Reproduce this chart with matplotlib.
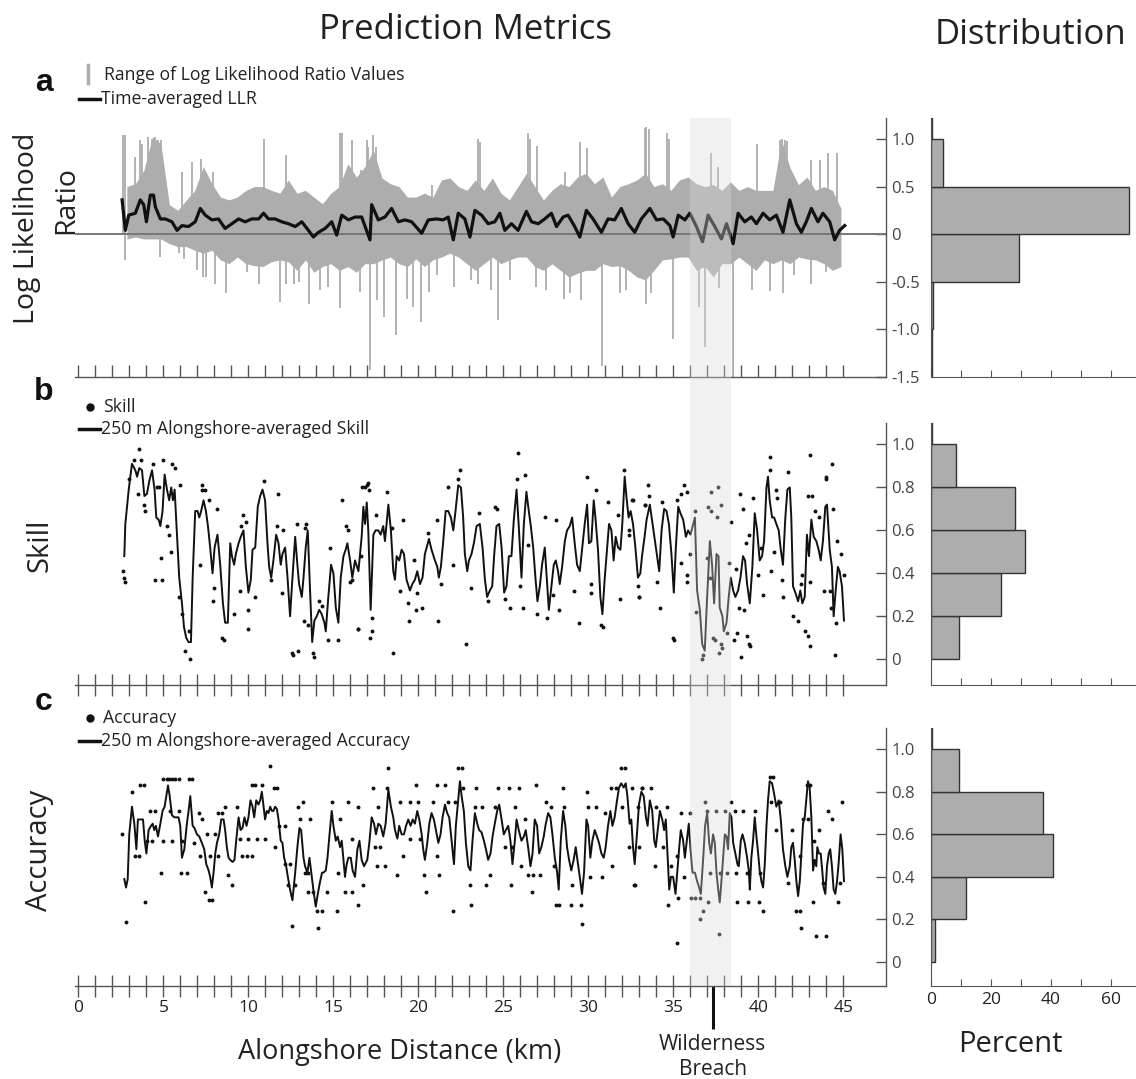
import matplotlib.pyplot as plt
import matplotlib.transforms as mtransforms
from matplotlib.lines import Line2D
import numpy as np

plt.rcParams['font.family'] = ['Open Sans', 'DejaVu Sans']

# ---------------- data ----------------
breach_km = 37.3
breach_band = (35.96, 38.4)

# panel a: range of LLR values, read every 0.5 km starting at 2.85 km
llr_env_start = 2.85
llr_env_step = 0.5
llr_upper = [0.50, 0.53, 0.67, 1.02, 0.95, 0.31, 0.25, 0.36, 0.46, 0.71, 0.53, 0.39, 0.36, 0.39, 0.46,
             0.50, 0.50, 0.46, 0.43, 0.57, 0.43, 0.46, 0.39, 0.32, 0.43, 0.50, 0.74, 0.60, 0.71,
             0.88, 0.59, 0.53, 0.50, 0.39, 0.39, 0.43, 0.39, 0.57, 0.59, 0.50, 0.46, 0.57, 0.46, 0.59,
             0.43, 0.36, 0.50, 0.64, 0.50, 0.36, 0.46, 0.53, 0.50, 0.60, 0.64, 0.53, 0.60, 0.39, 0.50,
             0.53, 0.57, 0.64, 0.50, 0.53, 0.46, 0.57, 0.60, 0.53, 0.50, 0.52, 0.46, 0.55, 0.46, 0.50,
             0.46, 0.46, 0.46, 0.99, 0.70, 0.52, 0.60, 0.46, 0.50, 0.46, 0.27]
llr_lower = [-0.05, -0.03, -0.05, -0.05, -0.05, -0.10, -0.13, -0.13, -0.17, -0.20, -0.17, -0.27, -0.31,
             -0.24, -0.31, -0.33, -0.34, -0.29, -0.27, -0.29, -0.38, -0.27, -0.40, -0.34, -0.31, -0.38,
             -0.34, -0.40, -0.31,
             -0.31, -0.27, -0.24, -0.31, -0.34, -0.26, -0.34, -0.27, -0.24, -0.20, -0.24, -0.31, -0.38,
             -0.31, -0.24, -0.31, -0.27, -0.24, -0.24, -0.34, -0.38, -0.31, -0.38, -0.45, -0.41, -0.38,
             -0.38, -0.31, -0.34, -0.33,
             -0.38, -0.45, -0.48, -0.38, -0.27, -0.26, -0.24, -0.24, -0.38, -0.34, -0.45, -0.31, -0.31,
             -0.24, -0.31, -0.38, -0.27, -0.31, -0.27, -0.31, -0.24, -0.26, -0.27, -0.31, -0.38, -0.34]
spike_up_km = [2.6, 2.75, 3.3, 3.6, 3.75, 4.1, 4.3, 4.5, 4.7, 4.85, 6.1, 6.7, 7.2, 7.9, 10.9, 12.2,
               15.4, 15.5, 16.1, 16.6, 16.95, 17.05, 17.3, 17.5, 20.8, 23.5, 23.65, 26.45, 26.55,
               26.95, 28.6, 29.5, 29.9, 33.3, 33.4, 33.55, 34.6, 34.75, 37.2, 37.6, 39.9, 41.25,
               41.4, 41.55, 41.7, 43.1, 43.6, 44.1, 44.6]
spike_up_val = [1.04, 1.04, 0.81, 0.99, 0.95, 1.02, 1.00, 1.02, 0.99, 0.99, 0.65, 0.76, 0.79, 0.65,
                1.00, 0.83, 1.06, 1.06, 0.99, 0.67, 0.99, 0.92, 1.04, 0.92, 0.52, 1.00, 0.97, 1.06,
                1.00, 0.93, 0.65, 0.97, 0.90, 1.11, 1.13, 1.10, 1.06, 1.00, 0.85, 0.71, 0.95, 0.99,
                1.00, 0.99, 0.98, 0.78, 0.78, 0.85, 0.85]
spike_dn_km = [2.75, 4.8, 5.9, 6.2, 6.95, 7.3, 7.5, 8.05, 8.7, 9.9, 10.6, 11.85, 12.2, 12.7, 12.95,
               13.55, 14.2, 14.7, 15.4, 16.55, 17.15, 17.55, 17.95, 18.7, 19.3, 19.7, 20.15, 20.6,
               21.1, 22.1, 23.1, 23.5, 24.25, 24.7, 25.4, 26.9, 27.5, 28.55, 28.9, 29.55, 30.8,
               31.85, 32.2, 33.4, 33.7, 34.95, 36.5, 36.85, 37.7, 38.5, 39.6, 40.7, 41.45, 42.1,
               43.1, 44.0]
spike_dn_val = [-0.27, -0.24, -0.20, -0.26, -0.38, -0.45, -0.45, -0.52, -0.62, -0.40, -0.52, -0.71,
                -0.52, -0.52, -0.50, -0.73, -0.59, -0.55, -0.78, -0.61, -1.43, -0.69, -0.87, -1.06,
                -0.68, -0.76, -0.92, -0.61, -0.43, -0.55, -0.48, -0.52, -0.59, -0.90, -0.48, -0.55,
                -0.59, -0.68, -0.62, -0.69, -1.38, -0.62, -0.59, -0.73, -0.62, -1.10, -0.76, -1.18,
                -0.57, -1.50, -0.59, -0.60, -0.62, -0.43, -0.52, -0.40]
llr_mean_km = [2.57, 2.76, 2.96, 3.35, 3.64, 3.84, 4.0, 4.23, 4.42, 4.52, 4.82, 5.11, 5.50, 5.80, 6.09,
               6.48, 6.87, 7.17, 7.46, 7.85, 8.24, 8.63, 9.03, 9.42, 9.81, 10.2, 10.6, 10.89, 11.18,
               11.57, 11.96, 12.35, 12.75, 13.14, 13.53, 13.82, 14.12, 14.51, 14.9, 15.19, 15.49,
               15.88, 16.27, 16.66, 17.15, 17.25, 17.64, 18.03, 18.42, 18.82, 19.21, 19.6, 20.19,
               20.58, 21.07, 21.46, 21.75, 22.05, 22.34, 22.73, 23.03, 23.32, 23.71, 24.1, 24.49,
               24.79, 25.08, 25.47, 25.86, 26.35, 26.65, 27.04, 27.43, 27.82, 28.12, 28.51, 28.8,
               29.19, 29.49, 29.88, 30.27, 30.76, 31.15, 31.54, 31.93, 32.33, 32.72, 33.11, 33.61,
               34.0, 34.4, 34.79, 34.98, 35.28, 35.67, 35.96, 36.35, 36.71, 37.04, 37.43, 37.82,
               38.12, 38.51, 38.8, 39.19, 39.58, 39.88, 40.27, 40.66, 41.05, 41.44, 41.84, 42.23,
               42.52, 42.81, 43.11, 43.5, 43.79, 44.19, 44.48, 44.77, 45.07]
llr_mean = [0.36, 0.04, 0.20, 0.22, 0.36, 0.31, 0.13, 0.41, 0.41, 0.29, 0.16, 0.16, 0.13, 0.04, 0.09,
            0.08, 0.13, 0.27, 0.20, 0.15, 0.16, 0.06, 0.11, 0.16, 0.13, 0.16, 0.16, 0.22, 0.16,
            0.16, 0.13, 0.11, 0.08, 0.13, 0.04, -0.03, 0.02, 0.06, 0.13, -0.01, 0.20,
            0.15, 0.18, 0.18, -0.06, 0.31, 0.15, 0.18, 0.27, 0.13, 0.15, 0.13, 0.01,
            0.15, 0.16, 0.15, 0.18, -0.06, 0.22, 0.16, -0.03, 0.25, 0.20, 0.11, 0.13,
            0.22, 0.04, 0.11, 0.04, 0.24, 0.13, 0.11, 0.16, 0.22, 0.08, 0.18, 0.20,
            0.08, -0.03, 0.25, 0.16, 0.02, 0.16, 0.15, 0.27, 0.11, 0.02, 0.16, 0.27,
            0.15, 0.16, 0.09, -0.03, 0.20, 0.15, 0.22, 0.08, -0.08, 0.20, 0.08, -0.05,
            0.11, -0.10, 0.22, 0.13, 0.18, 0.11, 0.22, 0.15, 0.20, 0.02, 0.36, 0.11,
            0.02, 0.13, 0.27, 0.13, 0.22, 0.13, -0.06, 0.04, 0.09]

# panel b: skill
skill_km = [2.70, 2.76, 2.96, 3.15, 3.35, 3.45, 3.58, 3.74, 3.88, 4.03, 4.17, 4.33, 4.48, 4.58, 4.72,
            4.82, 4.95, 5.07, 5.21, 5.34, 5.46, 5.56, 5.66, 5.80, 5.93, 6.09, 6.21, 6.34, 6.48, 6.62,
            6.72, 6.87, 7.01, 7.11, 7.22, 7.36, 7.50, 7.62, 7.75, 7.89, 8.01, 8.18, 8.34, 8.50, 8.63,
            8.79, 8.93, 9.03, 9.16, 9.26, 9.42, 9.55, 9.71, 9.85, 10.0, 10.14, 10.24, 10.40, 10.55,
            10.69, 10.83, 10.98, 11.12, 11.22, 11.34, 11.47, 11.63, 11.77, 11.90, 12.0, 12.16, 12.30,
            12.45, 12.59, 12.75, 12.88, 12.98, 13.14, 13.24, 13.37, 13.49, 13.63, 13.75, 13.88, 14.02,
            14.16, 14.31, 14.47, 14.55, 14.70, 14.86, 15.00, 15.14, 15.29, 15.43, 15.59, 15.72, 15.82,
            15.98, 16.11, 16.27,
            16.47, 16.66, 16.76, 16.86, 16.96, 17.05, 17.19, 17.35, 17.48, 17.64, 17.78, 17.93, 18.03,
            18.23, 18.38, 18.52, 18.62, 18.72, 18.87, 19.01, 19.15, 19.30, 19.50, 19.64, 19.79, 19.93,
            20.09, 20.24, 20.38, 20.62, 20.77, 20.97, 21.11, 21.20, 21.32, 21.46, 21.60, 21.75, 21.91,
            22.05, 22.18, 22.34, 22.50, 22.63, 22.73, 22.87, 22.97, 23.12, 23.26, 23.42, 23.61, 23.77,
            23.91, 24.04, 24.20, 24.34, 24.45, 24.59, 24.75, 24.89, 25.04, 25.18, 25.32, 25.47, 25.61,
            25.77, 25.90, 26.06, 26.20, 26.35, 26.49, 26.61, 26.75, 26.88, 27.0, 27.14, 27.27, 27.43,
            27.57, 27.67, 27.82, 27.96, 28.08, 28.21, 28.31, 28.45, 28.61, 28.74, 28.90, 29.04, 29.19,
            29.33, 29.49, 29.62, 29.78, 29.92, 30.03, 30.17, 30.31, 30.41, 30.56, 30.70, 30.82, 30.96,
            31.09, 31.21, 31.35, 31.48, 31.60, 31.74, 31.88, 31.99, 32.13, 32.23, 32.36, 32.48, 32.62,
            32.76, 32.91, 33.05, 33.15, 33.30,
            33.42, 33.61, 33.77, 33.91, 34.04, 34.16, 34.30, 34.45, 34.59, 34.73, 34.88, 35.02, 35.14,
            35.28, 35.41, 35.57, 35.73, 35.86, 36.0, 36.16, 36.26, 36.39, 36.55, 36.69, 36.84, 36.98,
            37.14, 37.27, 37.39, 37.53, 37.65, 37.72, 37.88, 37.96, 38.12, 38.25, 38.37, 38.51, 38.64,
            38.80, 38.94, 39.09, 39.21, 39.33, 39.49, 39.64, 39.78, 39.92, 40.07, 40.21, 40.33, 40.47,
            40.56, 40.66, 40.80, 40.92, 41.05, 41.19, 41.31, 41.44, 41.58, 41.70, 41.84, 41.93, 42.03,
            42.17, 42.33, 42.46, 42.58, 42.72, 42.85, 42.97, 43.11, 43.25, 43.40, 43.54, 43.66, 43.79,
            43.93, 44.03, 44.19, 44.32, 44.42, 44.54, 44.67, 44.77, 44.91, 45.03]
skill_avg = [0.48, 0.63, 0.79, 0.91, 0.88, 0.85, 0.89, 0.88, 0.76, 0.77, 0.83, 0.88, 0.79, 0.66, 0.65,
             0.62, 0.69, 0.86, 0.79, 0.74, 0.80, 0.74, 0.79, 0.58, 0.38, 0.26, 0.15, 0.10, 0.08, 0.08,
             0.38, 0.69, 0.69, 0.66, 0.69, 0.74, 0.69, 0.62, 0.52, 0.40, 0.52, 0.58, 0.44, 0.26, 0.17,
             0.17, 0.54, 0.48, 0.44, 0.49, 0.54, 0.57, 0.60, 0.43, 0.31, 0.37, 0.51, 0.52, 0.71,
             0.76, 0.79, 0.74, 0.54, 0.43, 0.38, 0.46, 0.58, 0.54, 0.44, 0.49, 0.52, 0.38,
             0.20, 0.38, 0.57, 0.44, 0.35, 0.29, 0.38, 0.52, 0.60, 0.31, 0.08, 0.18, 0.20,
             0.23, 0.21, 0.17, 0.13, 0.29, 0.44, 0.40, 0.24, 0.17, 0.38, 0.48, 0.51, 0.54,
             0.46, 0.38, 0.46,
             0.41, 0.57, 0.71, 0.63, 0.73, 0.60, 0.23, 0.58, 0.60, 0.60, 0.58, 0.62, 0.55,
             0.72, 0.60, 0.41, 0.37, 0.48, 0.46, 0.51, 0.49, 0.37, 0.32, 0.35, 0.37, 0.41,
             0.35, 0.38, 0.49, 0.56, 0.51, 0.46, 0.43, 0.38, 0.43, 0.55, 0.69, 0.69, 0.66,
             0.60, 0.69, 0.81, 0.80, 0.66, 0.49, 0.41, 0.46, 0.49, 0.54, 0.62, 0.63, 0.52,
             0.37, 0.29, 0.32, 0.34, 0.48, 0.62, 0.63, 0.52, 0.31, 0.34, 0.48, 0.48, 0.65,
             0.79, 0.62, 0.38, 0.63, 0.78, 0.69, 0.62, 0.52, 0.38, 0.27, 0.34, 0.44, 0.52,
             0.35, 0.23, 0.34, 0.44, 0.46, 0.41, 0.35, 0.43, 0.55, 0.60, 0.62, 0.66, 0.54,
             0.44, 0.41, 0.51, 0.63, 0.72, 0.54, 0.55, 0.74, 0.66, 0.51, 0.29, 0.21, 0.38,
             0.51, 0.63, 0.60, 0.46, 0.57, 0.52, 0.51, 0.63, 0.85, 0.76, 0.66, 0.69, 0.63,
             0.52, 0.38, 0.40, 0.48, 0.57,
             0.65, 0.72, 0.63, 0.55, 0.48, 0.41, 0.60, 0.70, 0.69, 0.63, 0.49, 0.31, 0.52,
             0.71, 0.68, 0.65, 0.57, 0.60, 0.58, 0.63, 0.66, 0.32, 0.23, 0.07, 0.04, 0.29,
             0.55, 0.44, 0.26, 0.49, 0.48, 0.24, 0.20, 0.13, 0.17, 0.29, 0.38, 0.32, 0.29,
             0.32, 0.38, 0.48, 0.46, 0.35, 0.26, 0.43, 0.68, 0.60, 0.46, 0.48, 0.55, 0.80,
             0.85, 0.74, 0.66, 0.66, 0.63, 0.60, 0.51, 0.44, 0.66, 0.79, 0.80, 0.66, 0.34,
             0.31, 0.27, 0.32, 0.26, 0.29, 0.58, 0.48, 0.65, 0.57, 0.55, 0.51, 0.46, 0.55,
             0.71, 0.72, 0.51, 0.43, 0.20, 0.32, 0.43, 0.41, 0.34, 0.18]
skill_dot_km = [3.58, 3.25, 3.70, 4.39, 4.99, 5.50, 5.66, 2.96, 3.50, 3.84, 3.94, 4.62, 4.72, 5.21, 5.31,
                4.86, 5.46, 5.99, 4.52, 4.91, 2.62, 2.76, 2.66, 5.89, 6.09, 6.28, 6.58, 6.48, 7.26, 7.28,
                7.46, 7.70, 7.17, 8.15, 7.95, 7.91, 8.44, 8.54, 9.18, 9.52, 10.0, 9.97, 10.4, 9.67, 9.85,
                9.55, 10.89, 11.73, 11.67, 12.06, 11.32, 12.0, 12.55, 12.61, 12.94, 12.85, 13.39, 13.33,
                13.53, 13.26, 13.82, 13.85, 14.18, 14.31, 14.66, 15.29, 14.80, 15.49, 15.72, 15.88,
                15.98, 16.07, 16.43, 16.70, 16.60,
                16.47, 17.15, 17.25, 17.29, 17.05, 16.86, 16.95, 17.08, 17.5, 18.13, 18.42, 18.52, 18.91,
                19.07, 19.40, 19.46, 19.83, 20.19, 19.89, 19.76, 20.54, 21.13, 21.32, 21.07, 21.71,
                22.05, 22.44, 22.30, 22.77, 23.12, 23.55, 24.10, 24.49, 24.63, 25.12, 25.41, 25.86,
                25.77, 26.29, 26.16, 25.96, 26.45, 27.0, 27.59, 27.43, 28.12, 27.92, 28.25, 29.15,
                29.43, 29.92, 30.13, 30.15, 30.47, 30.76, 30.86, 31.15, 31.74, 31.84, 32.09, 32.36,
                32.91, 32.95, 33.30, 32.62,
                32.54, 32.40, 32.97, 33.32, 33.51, 33.55, 34.20, 34.06, 34.30, 34.98, 35.02, 35.22,
                35.47, 35.61, 35.43, 35.77, 35.79, 35.82, 36.0, 36.26, 36.35, 36.65, 36.75, 36.98,
                37.04, 37.18, 37.23, 37.33, 37.43, 37.14, 37.59, 37.78, 37.57, 37.69, 37.82, 37.86,
                38.12, 38.25, 38.41, 38.57, 38.74, 38.70, 38.84, 39.0, 38.94, 39.06, 39.13, 39.35,
                39.43, 39.53, 39.25, 39.45, 39.68, 40.0, 40.17, 40.27, 40.66, 40.68, 40.72, 40.90,
                41.05, 41.07, 41.38, 41.74, 41.44, 42.03, 42.33, 42.52, 42.56, 42.72, 42.91, 43.01,
                42.91, 43.15, 43.01, 43.05, 43.30, 43.54, 43.83, 43.95, 43.99, 44.19, 44.25, 44.32,
                44.38, 44.48, 44.58, 44.64, 44.83, 45.01]
skill_dot = [0.98, 0.93, 0.93, 0.91, 0.93, 0.91, 0.89, 0.84, 0.77, 0.72, 0.69, 0.80, 0.80, 0.62, 0.58,
             0.47, 0.50, 0.81, 0.37, 0.37, 0.41, 0.36, 0.38, 0.29, 0.21, 0.04, 0.00, 0.13, 0.81, 0.79,
             0.79, 0.74, 0.44, 0.70, 0.33, 0.27, 0.10, 0.09, 0.21, 0.32, 0.14, 0.23, 0.29, 0.67, 0.64,
             0.62, 0.83, 0.77, 0.62, 0.60, 0.37, 0.31, 0.03, 0.02, 0.04, 0.63, 0.63, 0.61,
             0.16, 0.18, 0.03, 0.01, 0.27, 0.25, 0.09, 0.09, 0.52, 0.74, 0.62, 0.60,
             0.36, 0.37, 0.14, 0.80, 0.48,
             0.14, 0.10, 0.13, 0.19, 0.82, 0.80, 0.81, 0.79, 0.67, 0.78, 0.61, 0.03, 0.32,
             0.65, 0.26, 0.18, 0.23, 0.24, 0.31, 0.46, 0.59, 0.18, 0.35, 0.65, 0.80,
             0.44, 0.88, 0.84, 0.07, 0.33, 0.68, 0.27, 0.71, 0.70, 0.28, 0.24, 0.96,
             0.84, 0.86, 0.24, 0.34, 0.53, 0.21, 0.19, 0.66, 0.65, 0.30, 0.23, 0.32,
             0.17, 0.85, 0.35, 0.31, 0.79, 0.16, 0.15, 0.73, 0.67, 0.28, 0.88, 0.58,
             0.34, 0.29, 0.72, 0.74,
             0.74, 0.60, 0.29, 0.72, 0.81, 0.76, 0.24, 0.36, 0.73, 0.10, 0.09, 0.74,
             0.45, 0.81, 0.77, 0.39, 0.36, 0.78, 0.49, 0.69, 0.22, 0.00, 0.02, 0.47,
             0.71, 0.78, 0.69, 0.10, 0.09, 0.38, 0.80, 0.72, 0.66, 0.03, 0.07, 0.05,
             0.12, 0.45, 0.64, 0.09, 0.12, 0.42, 0.24, 0.01, 0.77, 0.70, 0.23, 0.11,
             0.07, 0.06, 0.54, 0.58, 0.75, 0.39, 0.52, 0.30, 0.94, 0.88, 0.41, 0.50,
             0.79, 0.75, 0.37, 0.87, 0.29, 0.20, 0.18, 0.35, 0.39, 0.13, 0.11, 0.06,
             0.76, 0.76, 0.95, 0.36, 0.69, 0.66, 0.32, 0.84, 0.85, 0.32, 0.24, 0.91,
             0.70, 0.02, 0.17, 0.55, 0.49, 0.39]

# panel c: accuracy
acc_km = [2.70, 2.80, 2.90, 2.99, 3.15, 3.29, 3.41, 3.50, 3.64, 3.80, 3.90, 4.0, 4.13, 4.27, 4.37, 4.46,
          4.56, 4.68, 4.82, 4.95, 5.07, 5.17, 5.27, 5.37, 5.50, 5.64, 5.76, 5.89, 5.99, 6.09, 6.23,
          6.38, 6.48, 6.58, 6.72, 6.83, 6.97, 7.11, 7.26, 7.40, 7.52, 7.66, 7.75, 7.85, 7.95, 8.05,
          8.15, 8.28, 8.40, 8.54, 8.63, 8.73, 8.83, 8.93, 9.07, 9.18, 9.28, 9.42, 9.54, 9.65, 9.77,
          9.89, 10.0, 10.12, 10.24, 10.34, 10.46, 10.59, 10.69, 10.79, 10.89, 10.98, 11.08, 11.18,
          11.28, 11.38, 11.47, 11.57, 11.67, 11.77, 11.90, 12.0, 12.10, 12.20, 12.32, 12.45, 12.59,
          12.75, 12.88, 13.0, 13.10, 13.24, 13.33, 13.47, 13.59, 13.73, 13.82, 13.96, 14.08, 14.22,
          14.33, 14.41, 14.55, 14.65, 14.76, 14.9, 15.0, 15.14, 15.25, 15.39, 15.49, 15.59, 15.68,
          15.78, 15.88, 16.02, 16.13, 16.27, 16.41, 16.53, 16.66, 16.80,
          16.99, 17.11, 17.25, 17.39, 17.50, 17.64, 17.78, 17.93, 18.07, 18.23, 18.38, 18.52, 18.62,
          18.76, 18.87, 19.01, 19.15, 19.27, 19.40, 19.54, 19.66, 19.79, 19.93, 20.05, 20.19, 20.28,
          20.38, 20.52, 20.64, 20.77, 20.91, 21.03, 21.17, 21.30, 21.42, 21.56, 21.69, 21.81, 21.95,
          22.09, 22.20, 22.34, 22.44, 22.54, 22.67, 22.79, 22.93, 23.06, 23.18, 23.32, 23.46, 23.57,
          23.71, 23.85, 23.97, 24.10, 24.24, 24.36, 24.49, 24.63, 24.75, 24.89, 25.02, 25.14, 25.28,
          25.41, 25.53, 25.67, 25.77, 25.90, 26.06, 26.20, 26.31, 26.45, 26.59, 26.71, 26.84, 26.98,
          27.10, 27.23, 27.37, 27.49, 27.63, 27.76, 27.88, 28.02, 28.16, 28.25, 28.37, 28.51, 28.64,
          28.74, 28.86, 28.99, 29.13, 29.25, 29.35, 29.49, 29.62, 29.74, 29.88, 29.98, 30.11, 30.23,
          30.37, 30.50, 30.62, 30.76, 30.90, 31.01, 31.15, 31.29, 31.41, 31.54, 31.68, 31.80, 31.93,
          32.07, 32.19, 32.29, 32.42, 32.52, 32.62, 32.72, 32.85, 32.97, 33.11, 33.25,
          33.38, 33.48, 33.61, 33.75, 33.87, 33.96, 34.10, 34.20, 34.34, 34.45, 34.55, 34.65, 34.75,
          34.85, 34.98, 35.12, 35.22, 35.34, 35.43, 35.57, 35.67, 35.77, 35.90, 36.02, 36.12, 36.26,
          36.39, 36.51, 36.61, 36.75, 36.86, 36.98, 37.10, 37.20, 37.33, 37.43, 37.53, 37.63, 37.72,
          37.82, 37.92, 38.02, 38.12, 38.21, 38.31, 38.41, 38.51, 38.64, 38.76, 38.84, 38.96, 39.06,
          39.19, 39.33, 39.43, 39.49, 39.58, 39.68, 39.78, 39.88, 39.98, 40.07, 40.17, 40.27, 40.37,
          40.47, 40.56, 40.66, 40.80, 40.92, 41.05, 41.19, 41.31, 41.44, 41.58, 41.70, 41.84, 41.93,
          42.03, 42.13, 42.23, 42.33, 42.43, 42.52, 42.62, 42.72, 42.81, 42.91, 43.01, 43.11, 43.21,
          43.30, 43.40, 43.46, 43.56, 43.66, 43.75, 43.83, 43.93, 44.03, 44.13, 44.22, 44.32, 44.42,
          44.52, 44.62, 44.71, 44.83, 44.93, 45.03]
acc_avg = [0.39, 0.35, 0.39, 0.60, 0.73, 0.65, 0.53, 0.67, 0.67, 0.67, 0.57, 0.51, 0.62, 0.64, 0.65, 0.62,
           0.64, 0.59, 0.65, 0.71, 0.73, 0.78, 0.83, 0.78, 0.69, 0.68, 0.68, 0.68, 0.64, 0.49, 0.53,
           0.65, 0.71, 0.78, 0.64, 0.63, 0.60, 0.59, 0.56, 0.53, 0.46, 0.43, 0.40, 0.35, 0.42, 0.51,
           0.56, 0.60, 0.67, 0.67, 0.62, 0.54, 0.49, 0.48, 0.47, 0.48, 0.57, 0.68, 0.62, 0.63, 0.68,
           0.64, 0.68, 0.76, 0.73, 0.68, 0.76, 0.74, 0.76, 0.80, 0.73, 0.67, 0.71, 0.70,
           0.73, 0.71, 0.71, 0.73, 0.72, 0.67, 0.57, 0.56, 0.49, 0.46, 0.40, 0.34, 0.29,
           0.42, 0.54, 0.63, 0.62, 0.49, 0.45, 0.42, 0.49, 0.40, 0.34, 0.26, 0.32, 0.38,
           0.42, 0.42, 0.43, 0.49, 0.59, 0.71, 0.64, 0.57, 0.59, 0.54, 0.57, 0.48, 0.40,
           0.46, 0.49, 0.49, 0.43, 0.40, 0.53, 0.57, 0.48, 0.45,
           0.48, 0.56, 0.68, 0.65, 0.60, 0.65, 0.64, 0.59, 0.65, 0.81, 0.73, 0.68, 0.62,
           0.58, 0.64, 0.60, 0.60, 0.64, 0.67, 0.64, 0.67, 0.65, 0.71, 0.67, 0.60, 0.53,
           0.48, 0.56, 0.65, 0.70, 0.67, 0.62, 0.56, 0.60, 0.68, 0.74, 0.70, 0.68, 0.57,
           0.46, 0.64, 0.76, 0.85, 0.78, 0.71, 0.56, 0.45, 0.43, 0.57, 0.70, 0.65, 0.62,
           0.61, 0.57, 0.53, 0.48, 0.51, 0.59, 0.65, 0.71, 0.74, 0.67, 0.60, 0.62, 0.64,
           0.57, 0.46, 0.57, 0.67, 0.62, 0.57, 0.59, 0.62, 0.54, 0.45, 0.51, 0.67, 0.64,
           0.51, 0.54, 0.59, 0.65, 0.70, 0.68, 0.60, 0.49, 0.42, 0.34, 0.57, 0.71, 0.64,
           0.54, 0.48, 0.43, 0.48, 0.54, 0.48, 0.40, 0.32, 0.42, 0.67, 0.64, 0.49, 0.57,
           0.62, 0.59, 0.56, 0.51, 0.49, 0.54, 0.64, 0.71, 0.64, 0.68, 0.76, 0.82, 0.84,
           0.82, 0.84, 0.78, 0.65, 0.67, 0.54, 0.46, 0.60, 0.74, 0.80, 0.78,
           0.68, 0.64, 0.76, 0.71, 0.57, 0.54, 0.64, 0.71, 0.67, 0.62, 0.67, 0.51, 0.34,
           0.40, 0.40, 0.32, 0.42, 0.54, 0.62, 0.57, 0.49, 0.56, 0.65, 0.51, 0.42, 0.42,
           0.38, 0.35, 0.32, 0.49, 0.64, 0.70, 0.56, 0.51, 0.60, 0.56, 0.42, 0.34, 0.28,
           0.38, 0.49, 0.60, 0.59, 0.53, 0.70, 0.68, 0.56, 0.51, 0.46, 0.45, 0.57, 0.60,
           0.56, 0.49, 0.43, 0.34, 0.49, 0.57, 0.68, 0.59, 0.51, 0.43, 0.38, 0.35, 0.46,
           0.64, 0.76, 0.85, 0.84, 0.79, 0.73, 0.76, 0.67, 0.53, 0.45, 0.40, 0.45, 0.54,
           0.56, 0.48, 0.38, 0.31, 0.38, 0.51, 0.65, 0.68, 0.76, 0.85, 0.82, 0.68, 0.43,
           0.48, 0.45, 0.54, 0.51, 0.51, 0.43, 0.35, 0.32, 0.45, 0.51, 0.53, 0.45, 0.34,
           0.32, 0.38, 0.46, 0.60, 0.53, 0.38]
acc_dot_km = [3.15, 3.64, 3.84, 5.0, 5.2, 5.3, 5.5, 5.7, 5.9, 6.48, 6.68, 2.56, 2.80, 3.94, 3.31, 3.54,
              4.23, 4.52, 4.03, 4.33, 5.0, 4.87, 5.40, 5.89, 5.50, 6.09, 6.05, 6.38, 7.07, 7.26, 6.78,
              7.17, 7.75, 8.24, 7.56, 8.05, 7.46, 7.66, 7.85, 8.24, 8.44, 8.60, 8.79, 9.03, 9.32, 9.6,
              9.9, 10.2, 9.52, 10.0, 10.5, 11.0, 10.2, 10.4, 10.8, 11.24, 11.53, 11.67, 11.77, 12.16,
              11.57, 12.16, 12.45, 12.35, 12.75, 12.55, 12.9, 13.2, 13.04, 13.63, 13.33, 13.53, 13.53,
              13.82, 14.02, 14.31, 14.08, 14.6, 14.9, 15.2, 15.4, 15.29, 15.7, 16.1, 15.88, 16.47,
              16.43, 16.07, 16.76,
              17.35, 17.64, 17.45, 17.74, 17.54, 18.03, 18.23, 18.17, 18.72, 19.11, 18.9, 19.5, 20.0,
              19.5, 20.1, 19.83, 20.34, 20.42, 20.87, 21.07, 21.07, 21.56, 21.22, 21.75, 22.14, 22.01,
              22.34, 22.54, 22.63, 23.03, 23.08, 23.36, 23.32, 23.71, 24.0, 24.2, 24.7, 25.3, 25.9,
              24.5, 25.7, 25.1, 25.5, 25.47, 26.06, 26.29, 26.45, 26.75, 26.69, 26.9, 27.14, 27.53,
              27.82, 27.98, 28.12, 28.25, 28.51, 28.55, 28.96, 29.04, 29.55, 29.64, 29.94, 29.98,
              30.47, 30.07, 30.80, 30.96, 31.39, 31.35, 31.64, 31.93, 32.13, 32.68, 33.15,
              32.54, 33.12, 33.65, 32.0, 32.9, 34.0, 34.6, 32.4, 32.95, 32.73, 33.9, 34.36, 34.69,
              34.88, 35.18, 35.28, 35.43, 35.96, 35.63, 35.22, 36.06, 36.25, 36.55, 36.71, 36.55,
              36.84, 36.98, 37.49, 38.02, 37.04, 37.66, 37.14, 37.72, 38.12, 38.41, 38.6, 39.1, 39.8,
              38.74, 38.7, 39.3, 40.1, 39.39, 40.03, 40.27, 40.66, 40.86, 40.76, 41.25, 41.05, 41.97,
              41.74, 42.23, 42.43, 42.52, 42.43, 42.85, 43.05, 42.62, 42.91, 43.21, 43.25, 43.54,
              43.4, 43.95, 44.09, 44.34, 43.79, 44.67, 44.93, 44.77]
acc_dot = [0.80, 0.83, 0.83, 0.86, 0.86, 0.86, 0.86, 0.86, 0.86, 0.86, 0.86, 0.60, 0.19, 0.28, 0.50, 0.50,
           0.71, 0.71, 0.57, 0.57, 0.57, 0.42, 0.71, 0.71, 0.57, 0.57, 0.42, 0.42, 0.70, 0.67, 0.56,
           0.50, 0.50, 0.50, 0.60, 0.60, 0.33, 0.29, 0.29, 0.70, 0.70, 0.73, 0.41, 0.36, 0.73, 0.50,
           0.50, 0.50, 0.58, 0.58, 0.58, 0.58, 0.83, 0.83, 0.83, 0.92, 0.82, 0.82, 0.64, 0.64,
           0.54, 0.46, 0.46, 0.36, 0.36, 0.17, 0.73, 0.75, 0.67, 0.67, 0.42, 0.42, 0.33,
           0.33, 0.24, 0.24, 0.16, 0.33, 0.75, 0.24, 0.67, 0.42, 0.33, 0.33, 0.75, 0.73,
           0.27, 0.58, 0.36,
           0.82, 0.73, 0.54, 0.54, 0.45, 0.45, 0.91, 0.82, 0.41, 0.50, 0.75, 0.75, 0.75,
           0.58, 0.58, 0.83, 0.41, 0.33, 0.75, 0.50, 0.83, 0.83, 0.41, 0.75, 0.75, 0.24,
           0.91, 0.91, 0.82, 0.36, 0.27, 0.82, 0.73, 0.73, 0.36, 0.41, 0.82, 0.82, 0.82,
           0.73, 0.73, 0.54, 0.54, 0.36, 0.45, 0.67, 0.41, 0.41, 0.33, 0.83, 0.41, 0.75,
           0.73, 0.45, 0.27, 0.27, 0.82, 0.73, 0.27, 0.36, 0.27, 0.18, 0.80, 0.73,
           0.73, 0.40, 0.40, 0.70, 0.45, 0.82, 0.82, 0.91, 0.91, 0.36, 0.82,
           0.82, 0.82, 0.82, 0.73, 0.73, 0.73, 0.73, 0.54, 0.54, 0.36, 0.45, 0.54, 0.27,
           0.45, 0.09, 0.30, 0.70, 0.70, 0.40, 0.50, 0.30, 0.30, 0.30, 0.24, 0.20,
           0.75, 0.71, 0.71, 0.71, 0.28, 0.13, 0.42, 0.42, 0.42, 0.75, 0.71, 0.71, 0.71,
           0.28, 0.42, 0.42, 0.42, 0.28, 0.28, 0.24, 0.87, 0.87, 0.75, 0.75, 0.62, 0.62,
           0.37, 0.24, 0.24, 0.16, 0.50, 0.83, 0.83, 0.67, 0.67, 0.28, 0.57, 0.62,
           0.12, 0.12, 0.71, 0.67, 0.37, 0.28, 0.75, 0.37]

# distribution panels (percent per bin)
hist_a_edges = [-1.5, -1.0, -0.5, 0.0, 0.5, 1.0]
hist_a_pct = [0.2, 0.8, 29.2, 65.9, 4.1, 0.2]
hist_b_edges = [0.0, 0.2, 0.4, 0.6, 0.8, 1.0]
hist_b_pct = [9.4, 23.2, 31.4, 28.1, 8.2, 0.2]
hist_c_edges = [0.0, 0.2, 0.4, 0.6, 0.8, 1.0]
hist_c_pct = [1.4, 11.6, 40.8, 37.2, 9.2, 0.2]

# ---------------- layout ----------------
W, H = 1136, 1079
fig = plt.figure(figsize=(W / 100, H / 100), dpi=100)


def px_box(left, top, right, bottom):
    return [left / W, 1 - bottom / H, (right - left) / W, (bottom - top) / H]


ax_a = fig.add_axes(px_box(75, 118, 886, 377))
ax_b = fig.add_axes(px_box(75, 423, 886, 685))
ax_c = fig.add_axes(px_box(75, 728, 886, 986))
h_a = fig.add_axes(px_box(931, 118, 1136, 377))
h_b = fig.add_axes(px_box(931, 423, 1136, 685))
h_c = fig.add_axes(px_box(931, 728, 1136, 986))

spine_col = '#555555'
tick_col = '#444444'
gray = '#adadad'


def style_main(ax, ylim, yticks, ylabels, xdir):
    ax.set_xlim(-0.2, 47.5)
    ax.set_ylim(*ylim)
    ax.patch.set_alpha(0)
    for s in ['top', 'left']:
        ax.spines[s].set_visible(False)
    for s in ['right', 'bottom']:
        ax.spines[s].set_color(spine_col)
        ax.spines[s].set_linewidth(1.0)
    ax.yaxis.tick_right()
    ax.set_yticks(yticks)
    ax.set_yticklabels(ylabels)
    ax.tick_params(axis='y', direction='in', length=7, width=1, color=spine_col,
                   labelsize=12, labelcolor=tick_col, pad=4)
    ax.set_xticks(range(0, 46))
    ax.set_xticklabels([str(k) if k % 5 == 0 else '' for k in range(0, 46)])
    ax.tick_params(axis='x', direction=xdir, length=9 if xdir == 'in' else 16, width=1,
                   color=spine_col, labelsize=12.5, labelcolor='#222', pad=2)


def style_hist(h, ylim, labels):
    h.set_xlim(0, 68.3)
    h.set_ylim(*ylim)
    for s in ['top', 'right']:
        h.spines[s].set_visible(False)
    for s in ['left', 'bottom']:
        h.spines[s].set_color(spine_col)
    h.set_yticks([])
    h.set_xticks(range(0, 61, 10))
    h.set_xticklabels(['0', '', '20', '', '40', '', '60'] if labels else [])
    h.tick_params(axis='x', direction='in', length=5, color=spine_col,
                  labelsize=12.5, labelcolor='#222', pad=4)


# panel a
env_km = [llr_env_start + llr_env_step * i for i in range(len(llr_upper))]
ax_a.fill_between(env_km, llr_lower, llr_upper, color=gray, lw=0, zorder=1)
ax_a.vlines(spike_up_km, 0, spike_up_val, color=gray, lw=1.3, zorder=1)
ax_a.vlines(spike_dn_km, spike_dn_val, 0, color=gray, lw=1.3, zorder=1)
ax_a.axhline(0, color='#777777', lw=1.4, zorder=2)
ax_a.plot(llr_mean_km, llr_mean, color='#111111', lw=2.3, zorder=3)
style_main(ax_a, (-1.5, 1.22), [1.0, 0.5, 0, -0.5, -1.0, -1.5],
           ['1.0', '0.5', '0', '-0.5', '-1.0', '-1.5'], 'in')
ax_a.tick_params(axis='x', labelbottom=False)

# panel b
ax_b.plot(skill_dot_km, skill_dot, 'o', color='#111111', ms=1.8, zorder=2)
ax_b.plot(skill_km, skill_avg, color='#111111', lw=1.4, zorder=3)
style_main(ax_b, (-0.12, 1.1), [0, 0.2, 0.4, 0.6, 0.8, 1.0],
           ['0', '0.2', '0.4', '0.6', '0.8', '1.0'], 'inout')
ax_b.tick_params(axis='x', labelbottom=False)

# panel c
ax_c.plot(acc_dot_km, acc_dot, 'o', color='#111111', ms=1.8, zorder=2)
ax_c.plot(acc_km, acc_avg, color='#111111', lw=1.4, zorder=3)
style_main(ax_c, (-0.113, 1.1), [0, 0.2, 0.4, 0.6, 0.8, 1.0],
           ['0', '0.2', '0.4', '0.6', '0.8', '1.0'], 'inout')

# histograms
for h, edges, pct, ylim, lab in [(h_a, hist_a_edges, hist_a_pct, (-1.5, 1.22), False),
                                 (h_b, hist_b_edges, hist_b_pct, (-0.12, 1.1), False),
                                 (h_c, hist_c_edges, hist_c_pct, (-0.113, 1.1), True)]:
    binw = edges[1] - edges[0]
    h.barh(edges, pct, height=binw, align='edge', color=gray,
           edgecolor='#333333', lw=1.0)
    style_hist(h, ylim, lab)

# wilderness breach band (semi-transparent overlay across the three panels)
ax_band = fig.add_axes(px_box(75, 118, 886, 986))
ax_band.set_xlim(-0.2, 47.5)
ax_band.axis('off')
ax_band.patch.set_alpha(0)
ax_band.set_zorder(5)
ax_band.axvspan(*breach_band, color='#d9d9d9', alpha=0.35, lw=0)

trans_c = mtransforms.blended_transform_factory(ax_c.transData, ax_c.transAxes)
ax_c.plot([breach_km, breach_km], [0, -0.165], transform=trans_c, color='#111111',
          lw=2.2, clip_on=False, solid_capstyle='butt')
ax_c.text(breach_km, -0.185, 'Wilderness\nBreach', transform=trans_c, ha='center', va='top',
          fontsize=15, color='#222', linespacing=1.25)

# text
fig.text(465 / W, 1 - 30 / H, 'Prediction Metrics', ha='center', va='center', fontsize=25, color='#222')
fig.text(1030 / W, 1 - 35 / H, 'Distribution', ha='center', va='center', fontsize=25, color='#222')
fig.text(400 / W, 1 - 1052 / H, 'Alongshore Distance (km)', ha='center', va='center', fontsize=19.5, color='#222')
fig.text(1010 / W, 1 - 1045 / H, 'Percent', ha='center', va='center', fontsize=21, color='#222')

fig.text(27 / W, 1 - 228 / H, 'Log Likelihood', rotation=90, ha='center', va='center', fontsize=20.5, color='#222')
fig.text(66 / W, 1 - 200 / H, 'Ratio', rotation=90, ha='center', va='center', fontsize=20.5, color='#222')
fig.text(40 / W, 1 - 545 / H, 'Skill', rotation=90, ha='center', va='center', fontsize=21, color='#222')
fig.text(40 / W, 1 - 850 / H, 'Accuracy', rotation=90, ha='center', va='center', fontsize=21, color='#222')

for letter, y in [('a', 83), ('b', 392), ('c', 702)]:
    fig.text(44 / W, 1 - y / H, letter, ha='center', va='center', fontsize=23,
             fontweight='bold', family=['Liberation Sans', 'DejaVu Sans'], color='#111')

# legends
leg_fs = 12.7
fig.add_artist(Line2D([88 / W, 88 / W], [1 - 65 / H, 1 - 83 / H], transform=fig.transFigure,
                      color=gray, lw=2.5))
fig.text(104 / W, 1 - 75 / H, 'Range of Log Likelihood Ratio Values', va='center', fontsize=leg_fs, color='#222')
fig.add_artist(Line2D([79 / W, 100 / W], [1 - 99 / H] * 2, transform=fig.transFigure, color='#111', lw=2.5))
fig.text(101 / W, 1 - 99 / H, 'Time-averaged LLR', va='center', fontsize=leg_fs, color='#222')

for y_dot, y_line, name in [(407, 429, 'Skill'), (718, 741, 'Accuracy')]:
    fig.add_artist(Line2D([90 / W], [1 - y_dot / H], transform=fig.transFigure, marker='o',
                          ms=5, color='#111', lw=0))
    fig.text(103 / W, 1 - y_dot / H, name, va='center', fontsize=leg_fs, color='#222')
    fig.add_artist(Line2D([79 / W, 100 / W], [1 - y_line / H] * 2, transform=fig.transFigure,
                          color='#111', lw=2.5))
    fig.text(101 / W, 1 - y_line / H, '250 m Alongshore-averaged ' + name, va='center',
             fontsize=leg_fs, color='#222')

fig.savefig('out.png', dpi=100)
